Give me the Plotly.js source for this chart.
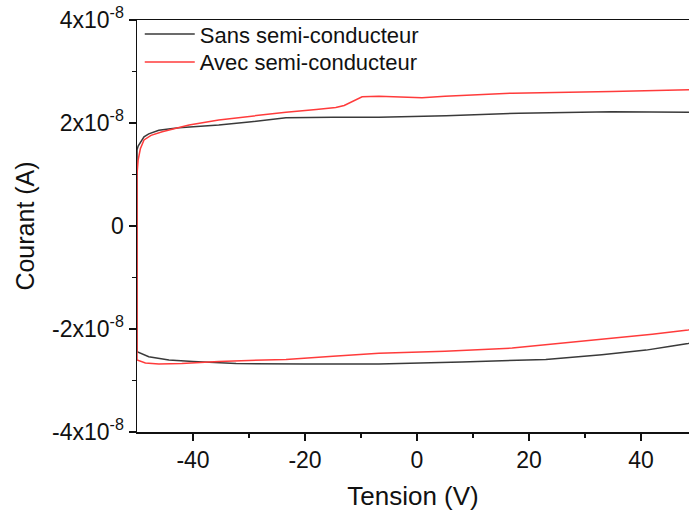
<!DOCTYPE html>
<html>
<head>
<meta charset="utf-8">
<script src="https://cdn.plot.ly/plotly-3.0.1.min.js"></script>
<style>html,body{margin:0;padding:0;background:#fff;}#chart{width:689px;height:511px;}</style>
</head>
<body>
<div id="chart"></div>
<script>
// Sans semi-conducteur (loop: vertical at -50, upper branch, lower branch back)
const sansV = [-50, -50, -49.8, -49.3, -48.75, -47.9, -47, -46.1, -44, -42.5, -38, -35.4, -30, -23.4, -15, -6.8, 5.2, 18.2, 34.8, 48.4, 50,
               50, 48.4, 45, 40.9, 33, 23, 8, -6.8, -20, -32.3, -40, -44.3, -47.9, -49.5, -50, -50];
const sansI = [1.45, 1.48, 1.55, 1.65, 1.73, 1.79, 1.83, 1.86, 1.89, 1.91, 1.94, 1.96, 2.02, 2.10, 2.11, 2.11, 2.14, 2.19, 2.22, 2.21, 2.21,
               -2.24, -2.28, -2.34, -2.41, -2.50, -2.59, -2.64, -2.68, -2.68, -2.67, -2.63, -2.60, -2.54, -2.47, -2.44, 1.45];
// Avec semi-conducteur
const avecV = [-50, -50, -49.8, -49.4, -48.75, -47.5, -45.5, -43, -40.7, -35.4, -30, -23.4, -18, -14.5, -13, -11.6, -10.5, -9.8, -6.8, -3, 0.9, 5, 17, 34.8, 48.4, 50,
               50, 48.4, 42, 34.8, 25, 17, 5, -6.8, -15, -23.4, -35.4, -42, -46.1, -48.5, -50, -50];
const avecI = [-2.60, 1.0, 1.28, 1.50, 1.67, 1.76, 1.83, 1.90, 1.96, 2.06, 2.13, 2.21, 2.26, 2.30, 2.34, 2.41, 2.48, 2.51, 2.52, 2.51, 2.49, 2.52, 2.58, 2.61, 2.64, 2.65,
               -1.98, -2.02, -2.10, -2.18, -2.29, -2.37, -2.43, -2.47, -2.53, -2.59, -2.63, -2.67, -2.68, -2.66, -2.60, 1.0];
const scale = 1e-8;
const yTickVals = [-4, -2, 0, 2, 4];
const yTickText = ['-4x10<sup>-8</sup>', '-2x10<sup>-8</sup>', '0', '2x10<sup>-8</sup>', '4x10<sup>-8</sup>'];
const xTickVals = [-40, -20, 0, 20, 40];

const font = 'Liberation Sans, Arial, sans-serif';
const traces = [
  {x: sansV, y: sansI.map(v => v * scale), mode: 'lines', name: 'Sans semi-conducteur',
   line: {color: '#3a3a3a', width: 1.5}, legend: 'legend'},
  {x: avecV, y: avecI.map(v => v * scale), mode: 'lines', name: 'Avec semi-conducteur',
   line: {color: '#ff3b3b', width: 1.5}, legend: 'legend2'}
];
const legendBase = {x: 0.005, xanchor: 'left', yanchor: 'top', bgcolor: 'rgba(0,0,0,0)',
                    font: {size: 22, family: font}, itemwidth: 50};
const layout = {
  width: 689, height: 511,
  margin: {l: 137, r: 0, t: 20, b: 79},
  paper_bgcolor: '#fff', plot_bgcolor: '#fff',
  font: {family: font, color: '#111', size: 22},
  showlegend: true,
  legend: Object.assign({}, legendBase, {y: 1.0167}),
  legend2: Object.assign({}, legendBase, {y: 0.9488}),
  xaxis: {
    range: [-50, 48.57], showgrid: false, zeroline: false,
    showline: true, linecolor: '#111', linewidth: 1.5, mirror: true,
    ticks: 'outside', ticklen: 7, tickwidth: 1.5, tickcolor: '#111',
    tickvals: xTickVals, ticktext: xTickVals.map(String),
    tickfont: {size: 23, family: font},
    minor: {tickvals: [-30, -10, 10, 30], ticks: 'outside', ticklen: 4, tickwidth: 1.5, tickcolor: '#111'},
    title: {text: 'Tension (V)', font: {size: 26, family: font}, standoff: 14}
  },
  yaxis: {
    range: [-4e-8, 4e-8], showgrid: false, zeroline: false,
    showline: true, linecolor: '#111', linewidth: 1.5, mirror: false,
    ticks: 'outside', ticklen: 7, tickwidth: 1.5, tickcolor: '#111',
    tickvals: yTickVals.map(v => v * scale), ticktext: yTickText,
    tickfont: {size: 23, family: font},
    minor: {tickvals: [-3e-8, -1e-8, 1e-8, 3e-8], ticks: 'outside', ticklen: 4, tickwidth: 1.5, tickcolor: '#111'},
    title: {text: 'Courant (A)', font: {size: 25, family: font}, standoff: 10}
  }
};
Plotly.newPlot('chart', traces, layout, {displayModeBar: false, staticPlot: true});
</script>
</body>
</html>
